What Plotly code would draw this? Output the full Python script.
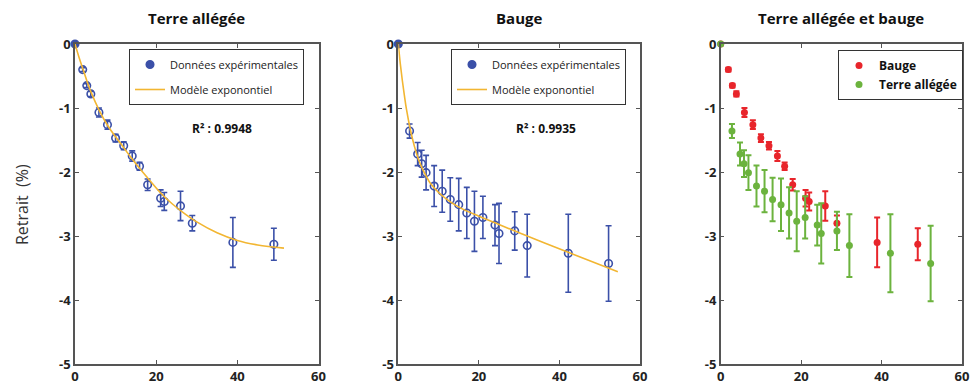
import plotly.graph_objects as go

# ---------------- data ----------------
terre_x = [0, 1.9, 2.9, 3.9, 5.9, 8.0, 10.0, 12.0, 14.1, 15.9, 17.9, 21.1, 22.0, 26.0, 28.9, 38.9, 49.0]
terre_y = [0, -0.40, -0.65, -0.78, -1.07, -1.26, -1.47, -1.59, -1.75, -1.91, -2.20, -2.41, -2.46, -2.53, -2.80, -3.10, -3.13]
terre_err = [0, 0.03, 0.03, 0.04, 0.07, 0.07, 0.06, 0.06, 0.08, 0.06, 0.09, 0.13, 0.14, 0.23, 0.12, 0.39, 0.25]

bauge_x = [0, 2.8, 4.8, 5.8, 6.9, 8.9, 10.9, 12.9, 15.0, 17.0, 18.9, 21.0, 24.0, 25.0, 28.9, 32.0, 42.2, 52.2]
bauge_y = [0, -1.36, -1.72, -1.87, -2.01, -2.22, -2.30, -2.43, -2.51, -2.64, -2.77, -2.71, -2.83, -2.96, -2.92, -3.15, -3.27, -3.43]
bauge_err = [0, 0.11, 0.18, 0.21, 0.27, 0.32, 0.33, 0.34, 0.41, 0.40, 0.47, 0.33, 0.32, 0.47, 0.30, 0.49, 0.61, 0.59]

# exponential model curves
terre_model_x = [0, 1, 2, 3, 4, 6, 8, 10, 12, 14, 16, 18, 21, 24, 27, 30, 35, 40, 45, 51.5]
terre_model_y = [0, -0.21, -0.40, -0.59, -0.76, -1.04, -1.27, -1.45, -1.62, -1.79, -1.95, -2.10, -2.32, -2.50, -2.65, -2.78, -2.95, -3.07, -3.14, -3.19]
bauge_model_x = [0, 0.5, 1, 1.5, 2, 3, 4, 5, 6, 8, 10, 13, 16, 20, 25, 30, 36, 42, 48, 54.5]
bauge_model_y = [0, -0.31, -0.57, -0.80, -1.01, -1.34, -1.60, -1.80, -1.95, -2.18, -2.32, -2.47, -2.58, -2.69, -2.82, -2.95, -3.10, -3.25, -3.40, -3.56]

titles = ["Terre allégée", "Bauge", "Terre allégée et bauge"]
r2_labels = ["R² : 0.9948", "R² : 0.9935"]
legend_labels = ["Données expérimentales", "Modèle exponontiel"]
combo_labels = ["Bauge", "Terre allégée"]
y_ticks = [0, -1, -2, -3, -4, -5]
y_ticktext = ["0", "-1", "-2", "-3", "-4", "-5"]
x_ticks = [0, 20, 40, 60]

# ---------------- styles ----------------
BLUE = "#3b50a8"
ORANGE = "#f2b632"
RED = "#e8252b"
GREEN = "#6cb33e"
AX = "#555555"
FONT = "Open Sans"

W, H = 975, 385
x_domains = [(75, 318.5), (398.3, 640), (720.7, 962)]
y_top, y_bot = 44, 364

fig = go.Figure()

def sym(n):
    return ["circle"] + ["circle-open"] * (n - 1)

# Panel 1
fig.add_trace(go.Scatter(
    x=terre_x, y=terre_y, mode="markers", name=legend_labels[0],
    marker=dict(symbol=sym(len(terre_x)), size=7.5, color=BLUE, line=dict(width=1.6, color=BLUE)),
    error_y=dict(type="data", array=terre_err, color=BLUE, thickness=1.6, width=3),
    xaxis="x", yaxis="y", legend="legend", legendgroup="a", cliponaxis=False))
fig.add_trace(go.Scatter(
    x=terre_model_x, y=terre_model_y, mode="lines", name=legend_labels[1],
    line=dict(color=ORANGE, width=1.6, shape="spline"),
    xaxis="x", yaxis="y", legend="legend", legendgroup="b"))

# Panel 2
fig.add_trace(go.Scatter(
    x=bauge_x, y=bauge_y, mode="markers", name=legend_labels[0],
    marker=dict(symbol=sym(len(bauge_x)), size=7.5, color=BLUE, line=dict(width=1.6, color=BLUE)),
    error_y=dict(type="data", array=bauge_err, color=BLUE, thickness=1.6, width=3),
    xaxis="x2", yaxis="y2", legend="legend2", legendgroup="c", cliponaxis=False))
fig.add_trace(go.Scatter(
    x=bauge_model_x, y=bauge_model_y, mode="lines", name=legend_labels[1],
    line=dict(color=ORANGE, width=1.6, shape="spline"),
    xaxis="x2", yaxis="y2", legend="legend2", legendgroup="d"))

# Panel 3 (labels as in the original figure)
fig.add_trace(go.Scatter(
    x=terre_x, y=terre_y, mode="markers", name=combo_labels[0],
    marker=dict(symbol="circle", size=7, color=RED),
    error_y=dict(type="data", array=terre_err, color=RED, thickness=2, width=3),
    xaxis="x3", yaxis="y3", legend="legend3", legendgroup="e", cliponaxis=False))
fig.add_trace(go.Scatter(
    x=bauge_x, y=bauge_y, mode="markers", name=combo_labels[1],
    marker=dict(symbol="circle", size=7, color=GREEN),
    error_y=dict(type="data", array=bauge_err, color=GREEN, thickness=2, width=3),
    xaxis="x3", yaxis="y3", legend="legend3", legendgroup="f", cliponaxis=False))

axis_common = dict(showline=True, linecolor=AX, linewidth=1.5, mirror="ticks",
                   ticks="inside", ticklen=4, tickcolor=AX, showgrid=False, zeroline=False,
                   automargin=False,
                   tickfont=dict(family=FONT, size=13, color="#222", weight="bold"))

layout = dict(width=W, height=H, margin=dict(l=0, r=0, t=0, b=0, pad=0, autoexpand=False),
              paper_bgcolor="white", plot_bgcolor="white", showlegend=True,
              font=dict(family=FONT))
for i, (x0, x1) in enumerate(x_domains):
    sfx = "" if i == 0 else str(i + 1)
    layout["xaxis" + sfx] = dict(domain=[x0 / W, x1 / W], range=[0, 60], tickvals=x_ticks,
                                 anchor="y" + sfx, **axis_common)
    layout["yaxis" + sfx] = dict(domain=[1 - y_bot / H, 1 - y_top / H], range=[-5, 0],
                                 tickvals=y_ticks, ticktext=y_ticktext, anchor="x" + sfx,
                                 **axis_common)

leg_common = dict(bgcolor="white", bordercolor="#333", borderwidth=1,
                  xanchor="left", yanchor="top", traceorder="grouped")
layout["legend"] = dict(x=129 / W, y=1 - 49 / H, tracegroupgap=6,
                        font=dict(family=FONT, size=11, color="#222"), **leg_common)
layout["legend2"] = dict(x=451 / W, y=1 - 49 / H, tracegroupgap=6,
                         font=dict(family=FONT, size=11, color="#222"), **leg_common)
layout["legend3"] = dict(x=838 / W, y=1 - 50 / H, tracegroupgap=0,
                         font=dict(family=FONT, size=12, color="#111", weight="bold"), **leg_common)

annotations = []
centers = [(a + b) / 2 for a, b in x_domains]
for t, c in zip(titles, centers):
    annotations.append(dict(text=t, x=c / W, y=1 - 18 / H, xref="paper", yref="paper",
                            xanchor="center", yanchor="middle", showarrow=False,
                            font=dict(family=FONT, size=15, color="#111", weight="bold")))
for lab, cx in zip(r2_labels, [222, 546]):
    annotations.append(dict(text=lab, x=cx / W, y=1 - 128 / H, xref="paper", yref="paper",
                            xanchor="center", yanchor="middle", showarrow=False,
                            font=dict(family=FONT, size=12, color="#111", weight="bold")))
annotations.append(dict(text="Retrait  (%)", x=22 / W, y=1 - 205 / H, xref="paper", yref="paper",
                        xanchor="center", yanchor="middle", textangle=-90, showarrow=False,
                        font=dict(family=FONT, size=16, color="#333")))
layout["annotations"] = annotations

fig.update_layout(**layout)
fig.write_html("out.html", config={"displayModeBar": False},
               post_script="document.body.style.margin='0';document.body.style.overflow='hidden';")
